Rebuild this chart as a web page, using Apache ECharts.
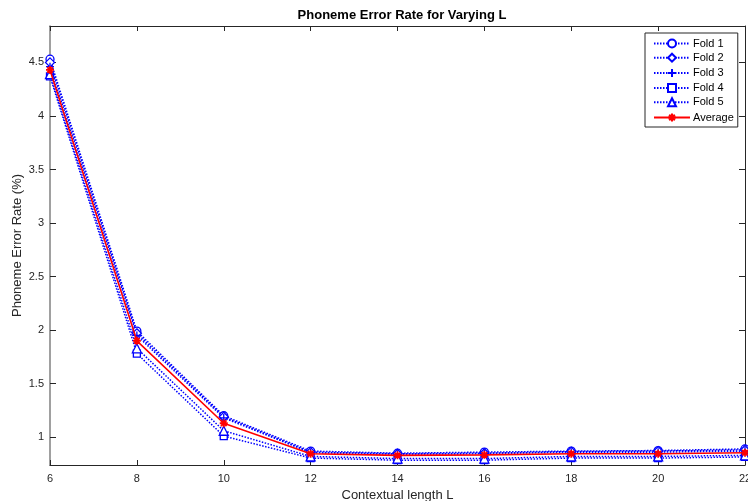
<!DOCTYPE html>
<html>
<head>
<meta charset="utf-8">
<script src="https://cdn.jsdelivr.net/npm/echarts@6/dist/echarts.min.js"></script>
<style>
html,body{margin:0;padding:0;background:#fff;}
#main{width:748px;height:501px;}
</style>
</head>
<body>
<div id="main"></div>
<script>
var contextLengths = [6, 8, 10, 12, 14, 16, 18, 20, 22];
var fold1 = [4.53, 1.99, 1.20, 0.87, 0.85, 0.86, 0.87, 0.875, 0.89];
var fold2 = [4.50, 1.97, 1.19, 0.86, 0.845, 0.85, 0.865, 0.87, 0.88];
var fold3 = [4.46, 1.95, 1.18, 0.855, 0.84, 0.845, 0.86, 0.86, 0.87];
var fold4 = [4.37, 1.78, 1.01, 0.805, 0.785, 0.785, 0.805, 0.805, 0.815];
var fold5 = [4.39, 1.83, 1.06, 0.82, 0.80, 0.80, 0.82, 0.82, 0.83];
var average = [4.43, 1.90, 1.13, 0.845, 0.83, 0.835, 0.845, 0.845, 0.855];
var yTicks = [1, 1.5, 2, 2.5, 3, 3.5, 4, 4.5];

function pairs(arr){ return contextLengths.map(function(x,i){return [x, arr[i]];}); }

var BLUE = '#0000ff', RED = '#ff0000';
var plusPath = 'path://M0,5L10,5M5,0L5,10';
var starPath = 'path://M0,5L10,5M5,0L5,10M1.5,1.5L8.5,8.5M8.5,1.5L1.5,8.5';

function foldSeries(name, data, symbol, size){
  return {
    name: name, type: 'line', data: pairs(data),
    symbol: symbol, symbolSize: size, showAllSymbol: true,
    lineStyle: {color: BLUE, width: 1.5, type: [1.5, 1.5]},
    itemStyle: {color: symbol.indexOf('path') === 0 ? 'none' : '#fff', borderColor: BLUE, borderWidth: 1.3},
    emphasis: {disabled: true},
    animation: false
  };
}

var chart = echarts.init(document.getElementById('main'), null, {renderer: 'canvas'});
var FONT = 'Liberation Sans, Arial, sans-serif';
var axisFont = {fontFamily: FONT, fontSize: 11, color: '#262626'};
var nameFont = {fontFamily: FONT, fontSize: 13, color: '#262626'};
chart.setOption({
  animation: false,
  backgroundColor: '#fff',
  title: {
    text: 'Phoneme Error Rate for Varying L',
    left: 397, top: 4, textAlign: 'center',
    textStyle: {fontFamily: FONT, fontSize: 13, fontWeight: 'bold', color: '#000'}
  },
  grid: {left: 50, right: 3, top: 26, bottom: 36, containLabel: false, outerBoundsMode: 'none'},
  legend: {
    orient: 'vertical', left: 645, top: 33,
    padding: [5, 4, 3, 8],
    itemWidth: 36, itemHeight: 10, itemGap: 3.2,
    borderColor: '#262626', borderWidth: 1, backgroundColor: '#fff',
    textStyle: {fontFamily: FONT, fontSize: 11, color: '#000', padding: [0,0,0,-2]},
    data: ['Fold 1','Fold 2','Fold 3','Fold 4','Fold 5','Average']
  },
  xAxis: [{
    type: 'value', min: 6, max: 22, interval: 2,
    name: 'Contextual length L', nameLocation: 'middle', nameGap: 21,
    nameTextStyle: nameFont,
    axisLine: {show: true, lineStyle: {color: '#262626', width: 1}},
    axisTick: {show: true, inside: true, length: 5, lineStyle: {color: '#262626'}},
    axisLabel: Object.assign({margin: 8}, axisFont),
    splitLine: {show: false}
  }, {
    type: 'value', min: 6, max: 22, interval: 2, position: 'top',
    axisLine: {show: true, lineStyle: {color: '#262626', width: 1}},
    axisTick: {show: true, inside: true, length: 5, lineStyle: {color: '#262626'}},
    axisLabel: {show: false},
    splitLine: {show: false}
  }],
  yAxis: [{
    type: 'value', min: 0.74, max: 4.84,
    name: 'Phoneme Error Rate (%)', nameLocation: 'middle', nameGap: 26, nameMoveOverlap: false,
    nameTextStyle: nameFont,
    axisLine: {show: true, lineStyle: {color: '#808080', width: 1.5}},
    axisTick: {show: true, inside: true, length: 6, customValues: yTicks, lineStyle: {color: '#262626'}},
    axisLabel: Object.assign({margin: 6, customValues: yTicks}, axisFont),
    splitLine: {show: false}
  }, {
    type: 'value', min: 0.74, max: 4.84, position: 'right',
    axisLine: {show: true, lineStyle: {color: '#262626', width: 1}},
    axisTick: {show: true, inside: true, length: 6, customValues: yTicks, lineStyle: {color: '#262626'}},
    axisLabel: {show: false, customValues: yTicks},
    splitLine: {show: false}
  }],
  series: [
    foldSeries('Fold 1', fold1, 'circle', 8),
    foldSeries('Fold 2', fold2, 'diamond', 9),
    foldSeries('Fold 3', fold3, plusPath, 8),
    foldSeries('Fold 4', fold4, 'rect', 7),
    foldSeries('Fold 5', fold5, 'triangle', 9),
    {
      name: 'Average', type: 'line', data: pairs(average),
      symbol: starPath, symbolSize: 8, showAllSymbol: true,
      lineStyle: {color: RED, width: 1.6, type: 'solid'},
      itemStyle: {color: 'none', borderColor: RED, borderWidth: 1.8},
      emphasis: {disabled: true},
      z: 5
    }
  ]
});
</script>
</body>
</html>
